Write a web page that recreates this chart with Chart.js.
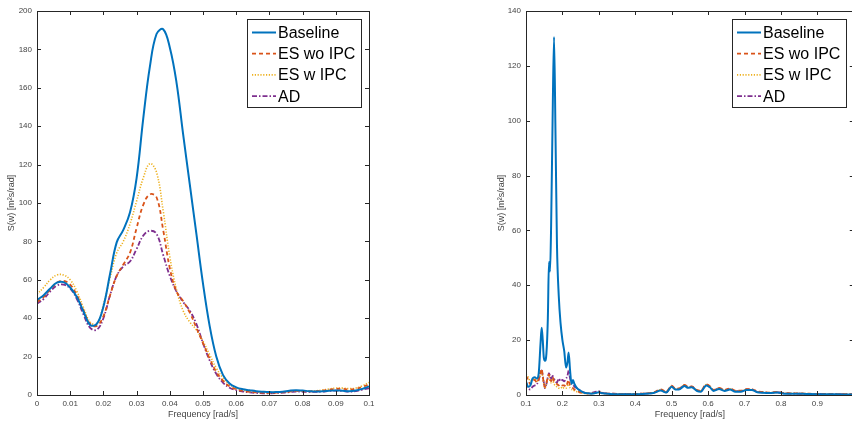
<!DOCTYPE html>
<html>
<head>
<meta charset="utf-8">
<script src="https://cdn.jsdelivr.net/npm/chart.js@4.4.1/dist/chart.umd.min.js"></script>
<style>
  html, body { margin: 0; padding: 0; background: #fff; overflow: hidden; }
  #wrap { position: relative; width: 852px; height: 423px; overflow: hidden; }
  #leftChart { position: absolute; left: 0; top: 0; }
  #rightChart { position: absolute; left: 480px; top: 0; }
</style>
</head>
<body>
<div id="wrap">
  <canvas id="leftChart" width="380" height="423"></canvas>
  <canvas id="rightChart" width="380" height="423"></canvas>
</div>
<script>
// --- Data: left panel (0 - 0.1 rad/s) ---
const seriesNames = ['Baseline', 'ES wo IPC', 'ES w IPC', 'AD'];

const freqLeft = [0, 0.002, 0.004, 0.006, 0.008, 0.010, 0.012, 0.014, 0.016, 0.018,
    0.020, 0.022, 0.024, 0.026, 0.028, 0.030, 0.032, 0.034, 0.036, 0.038,
    0.040, 0.042, 0.044, 0.046, 0.048, 0.050, 0.052, 0.054, 0.056, 0.058,
    0.060, 0.062, 0.064, 0.066, 0.068, 0.070, 0.072, 0.074, 0.076, 0.078,
    0.080, 0.082, 0.084, 0.086, 0.088, 0.090, 0.092, 0.094, 0.096, 0.098, 0.100];

const baselineLeft = [49.5, 52, 55.5, 58.5, 58.8, 56, 51, 43.5, 36.5, 37,
    46, 63, 79.5, 86, 95, 113, 144, 171, 188, 190.5,
    181, 163, 136, 110, 84, 58, 36, 20, 10.5, 6,
    4, 3, 2.5, 2, 1.7, 1.5, 1.5, 1.7, 2.2, 2.5,
    2.3, 2, 1.8, 1.9, 2.2, 2.4, 2.2, 2, 2.3, 3.2, 4.5];

const esWoIpcLeft = [48.5, 51, 55, 58.5, 59.5, 57.5, 52, 44, 37, 36,
    41, 52, 62, 68, 74, 87, 99, 104.5, 103, 86,
    66, 54, 49, 43, 35, 27, 19, 12, 7.5, 4.5,
    3, 2.2, 1.7, 1.4, 1.2, 1.1, 1.2, 1.4, 1.8, 2.1,
    2, 1.9, 2, 2.3, 2.8, 3.2, 3.2, 2.9, 3.2, 4.2, 5.5];

const esWIpcLeft = [52.5, 56, 60, 62.5, 62.5, 60, 54, 45.5, 38, 37,
    47, 61, 74, 80, 89, 101, 113, 120.5, 116, 96,
    72, 55, 44, 38, 34, 28, 21, 14, 9, 5.5,
    3.5, 2.5, 1.8, 1.5, 1.3, 1.2, 1.3, 1.5, 1.9, 2.2,
    2.2, 2.1, 2.2, 2.6, 3.1, 3.6, 3.6, 3.3, 3.6, 4.8, 6.5];

const adLeft = [47.5, 50, 54, 57, 57.5, 55.5, 50, 42, 35, 34,
    40, 52, 62, 67, 69.5, 76, 83, 85.5, 84, 73,
    62, 54, 48.5, 44, 37, 27, 18, 11, 6.5, 3.8,
    2.5, 1.8, 1.4, 1.1, 0.9, 0.9, 1.0, 1.2, 1.5, 1.8,
    1.7, 1.6, 1.6, 1.8, 2.1, 2.3, 2.1, 1.8, 2.0, 2.8, 3.5];

// --- Data: right panel (0.1 - 1 rad/s) ---
const freqRight = [0.100, 0.106, 0.112, 0.118, 0.124, 0.130, 0.135, 0.140, 0.143, 0.146,
    0.149, 0.152, 0.156, 0.160, 0.163, 0.166, 0.169, 0.173, 0.177, 0.181,
    0.185, 0.190, 0.195, 0.200, 0.205, 0.210, 0.214, 0.217, 0.221, 0.225,
    0.229, 0.233, 0.240, 0.250, 0.260, 0.270, 0.280, 0.290, 0.300, 0.310,
    0.330, 0.360, 0.390, 0.420, 0.450, 0.470, 0.485, 0.500, 0.510, 0.520,
    0.535, 0.545, 0.555, 0.570, 0.580, 0.595, 0.605, 0.615, 0.630, 0.645,
    0.660, 0.675, 0.690, 0.705, 0.720, 0.735, 0.750, 0.770, 0.790, 0.810,
    0.840, 0.870, 0.900, 0.940, 0.970, 1.000];

const baselineRight = [5, 3, 3.5, 6, 6.5, 6, 8, 19, 24.5, 20,
    13.5, 12.5, 15, 28, 48.5, 45, 62, 100, 130.5, 95,
    55, 36, 26, 20, 16, 10, 12, 15.5, 9, 4,
    5.5, 4, 2.5, 1.5, 0.8, 0.6, 0.5, 0.7, 1, 0.6,
    0.4, 0.3, 0.3, 0.4, 0.7, 1.6, 0.9, 3.0, 2.0, 2.0,
    3.3, 2.6, 2.8, 1.4, 1.2, 3.5, 2.8, 1.5, 2.2, 1.5,
    2.0, 1.2, 1.2, 1.8, 1.8, 1.0, 0.8, 0.7, 0.9, 0.5,
    0.5, 0.4, 0.3, 0.3, 0.2, 0.2];

const esWoIpcRight = [7, 5.5, 4, 5, 5.5, 4.5, 6, 8.5, 9.5, 7,
    4, 3, 4.5, 6.5, 7.5, 6, 5, 6.5, 5, 4.5,
    4, 3.5, 3, 3.5, 3.5, 3, 4.5, 5.5, 3.5, 3,
    2.5, 2, 1.5, 0.9, 0.7, 0.6, 0.6, 0.8, 1.1, 0.7,
    0.5, 0.4, 0.4, 0.5, 0.9, 2.0, 1.2, 3.4, 2.4, 2.4,
    3.7, 3.0, 3.1, 1.8, 1.6, 3.9, 3.2, 1.9, 2.6, 1.9,
    2.4, 1.6, 1.6, 2.1, 2.1, 1.3, 1.1, 0.9, 1.1, 0.7,
    0.6, 0.5, 0.4, 0.4, 0.3, 0.3];

const esWIpcRight = [7.5, 6.5, 5, 5.5, 6, 5, 6, 7.5, 8.5, 6.5,
    4, 2.5, 4, 6, 6.5, 5, 4.5, 5.5, 4, 3.5,
    3, 2.5, 2.5, 3, 2.5, 2.5, 3.5, 4, 2.5, 2,
    2, 1.5, 1.2, 0.8, 0.6, 0.5, 0.5, 0.7, 0.9, 0.6,
    0.4, 0.4, 0.4, 0.5, 0.9, 1.9, 1.1, 3.3, 2.3, 2.3,
    3.6, 2.9, 3.0, 1.7, 1.5, 3.8, 3.1, 1.8, 2.5, 1.8,
    2.3, 1.5, 1.5, 2.0, 2.0, 1.2, 1.0, 0.9, 1.0, 0.6,
    0.6, 0.5, 0.4, 0.3, 0.3, 0.3];

const adRight = [4.5, 2.5, 2, 3, 3.5, 4, 5.5, 8, 9, 7,
    4.5, 2.5, 4, 6.5, 8, 7, 5.5, 7, 6, 5,
    4.5, 6, 5, 5.5, 5, 6, 7, 9, 6, 4.5,
    4, 3, 2.5, 1.5, 0.9, 0.6, 0.7, 1.1, 1.4, 0.8,
    0.5, 0.4, 0.4, 0.5, 0.8, 1.8, 1.0, 3.2, 2.2, 2.2,
    3.5, 2.8, 3.0, 1.6, 1.4, 3.7, 3.0, 1.7, 2.4, 1.7,
    2.2, 1.4, 1.4, 2.0, 2.0, 1.1, 1.0, 0.8, 1.0, 0.6,
    0.5, 0.4, 0.4, 0.3, 0.3, 0.2];

// --- Styles ---
const colors = ['#0072BD', '#D95319', '#EDB120', '#7E2F8E'];
const dashes = [[], [4, 3], [1.2, 1.6], [5, 2, 1.5, 2]];
const widths = [2, 1.8, 1.6, 1.8];
const FONT = '"Liberation Sans", Arial, Helvetica, sans-serif';
const AXIS_COLOR = '#262626';
const TEXT_COLOR = '#444';

function makeDatasets(xs, seriesList, smooth) {
    return seriesList.map((vals, i) => ({
        label: seriesNames[i],
        data: xs.map((x, j) => ({ x: x, y: vals[j] })),
        borderColor: colors[i],
        borderDash: dashes[i],
        borderWidth: widths[i],
        pointRadius: 0,
        fill: false,
        tension: smooth === 'tension' ? 0.4 : 0,
        cubicInterpolationMode: smooth === 'monotone' ? 'monotone' : 'default'
    }));
}

// box round the axes with inward ticks on all four sides, like MATLAB "box on"
const matlabBox = {
    id: 'matlabBox',
    afterDraw(chart) {
        const { ctx, chartArea: a, scales } = chart;
        const tl = 4;
        ctx.save();
        ctx.strokeStyle = AXIS_COLOR;
        ctx.lineWidth = 1;
        ctx.setLineDash([]);
        ctx.strokeRect(Math.round(a.left) + 0.5, Math.round(a.top) + 0.5,
            Math.round(a.right - a.left), Math.round(a.bottom - a.top));
        ctx.beginPath();
        scales.x.ticks.forEach(t => {
            const px = Math.round(scales.x.getPixelForValue(t.value)) + 0.5;
            ctx.moveTo(px, a.bottom); ctx.lineTo(px, a.bottom - tl);
            ctx.moveTo(px, a.top); ctx.lineTo(px, a.top + tl);
        });
        scales.y.ticks.forEach(t => {
            const py = Math.round(scales.y.getPixelForValue(t.value)) + 0.5;
            ctx.moveTo(a.left, py); ctx.lineTo(a.left + tl, py);
            ctx.moveTo(a.right, py); ctx.lineTo(a.right - tl, py);
        });
        ctx.stroke();
        ctx.restore();
    }
};

// legend drawn inside the axes, top-right, with a frame
const boxLegend = {
    id: 'boxLegend',
    afterDatasetsDraw(chart) {
        const { ctx, chartArea: a } = chart;
        const w = 114, h = 88;
        const x0 = Math.round(a.right - 8 - w), y0 = Math.round(a.top + 8);
        ctx.save();
        ctx.fillStyle = '#fff';
        ctx.fillRect(x0, y0, w, h);
        ctx.strokeStyle = AXIS_COLOR;
        ctx.lineWidth = 1;
        ctx.strokeRect(x0 + 0.5, y0 + 0.5, w, h);
        chart.data.datasets.forEach((ds, i) => {
            const y = y0 + 13.5 + i * 21.2;
            ctx.setLineDash(ds.borderDash);
            ctx.strokeStyle = ds.borderColor;
            ctx.lineWidth = ds.borderWidth;
            ctx.beginPath();
            ctx.moveTo(x0 + 5, y);
            ctx.lineTo(x0 + 29, y);
            ctx.stroke();
            ctx.setLineDash([]);
            ctx.fillStyle = '#000';
            ctx.font = '16px ' + FONT;
            ctx.textBaseline = 'middle';
            ctx.fillText(ds.label, x0 + 31, y + 1);
        });
        ctx.restore();
    }
};

function makeChart(id, xs, seriesList, cfg) {
    return new Chart(document.getElementById(id), {
        type: 'line',
        data: { datasets: makeDatasets(xs, seriesList, cfg.smooth) },
        options: {
            responsive: false,
            animation: false,
            layout: { padding: { left: 0, top: 11, right: cfg.padRight, bottom: 0 } },
            plugins: { legend: { display: false }, tooltip: { enabled: false } },
            scales: {
                x: {
                    type: 'linear',
                    min: cfg.xMin,
                    max: cfg.xMax,
                    grid: { display: false, drawTicks: false },
                    border: { display: false },
                    ticks: {
                        stepSize: cfg.xStep,
                        autoSkip: false,
                        maxRotation: 0,
                        padding: 4,
                        color: TEXT_COLOR,
                        font: { family: FONT, size: 8 },
                        callback: v => String(Number(v.toFixed(cfg.xDigits)))
                    },
                    title: {
                        display: true,
                        text: 'Frequency [rad/s]',
                        color: TEXT_COLOR,
                        font: { family: FONT, size: 9 },
                        padding: { top: 0, bottom: 3 }
                    },
                    afterFit: s => { s.height = 28; }
                },
                y: {
                    min: 0,
                    max: cfg.yMax,
                    grid: { display: false, drawTicks: false },
                    border: { display: false },
                    ticks: {
                        stepSize: 20,
                        padding: 5,
                        color: TEXT_COLOR,
                        font: { family: FONT, size: 8 }
                    },
                    title: {
                        display: true,
                        text: 'S(w) [m²s/rad]',
                        color: TEXT_COLOR,
                        font: { family: FONT, size: 9 },
                        padding: { top: cfg.yTitlePad, bottom: 0 }
                    },
                    afterFit: s => { s.width = cfg.yWidth; }
                }
            }
        },
        plugins: [matlabBox, boxLegend]
    });
}

makeChart('leftChart', freqLeft, [baselineLeft, esWoIpcLeft, esWIpcLeft, adLeft], {
    xMin: 0, xMax: 0.1, xStep: 0.01, xDigits: 2, yMax: 200,
    yWidth: 37, padRight: 11, yTitlePad: 6.6, smooth: 'tension'
});

makeChart('rightChart', freqRight, [baselineRight, esWoIpcRight, esWIpcRight, adRight], {
    xMin: 0.1, xMax: 1, xStep: 0.1, xDigits: 1, yMax: 140,
    yWidth: 46, padRight: 3, yTitlePad: 16.3, smooth: 'monotone'
});
</script>
</body>
</html>
